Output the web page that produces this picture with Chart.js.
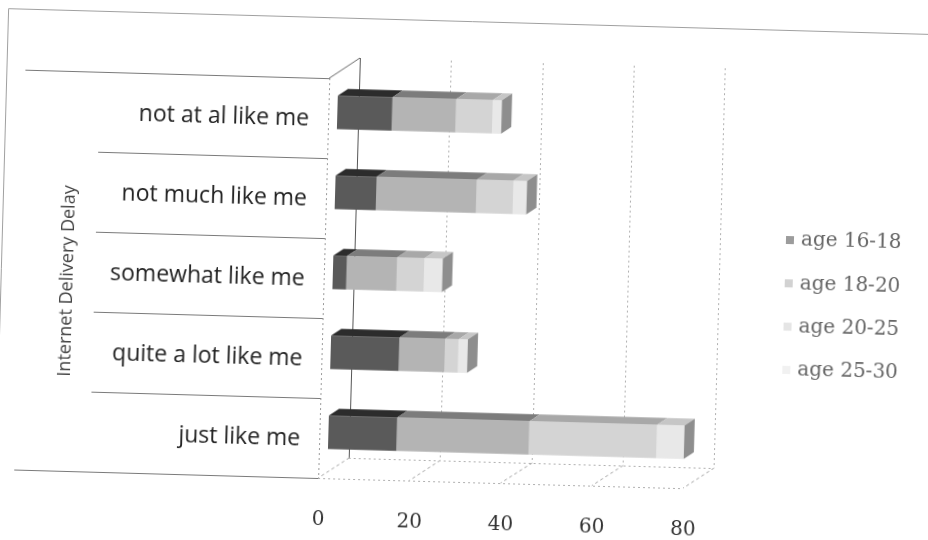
<!DOCTYPE html>
<html>
<head>
<meta charset="utf-8">
<script src="https://cdn.jsdelivr.net/npm/chart.js@4"></script>
<style>
  html, body { margin: 0; padding: 0; background: #fff; overflow: hidden; }
  #sheet { width: 928px; height: 540px; transform: rotate(1.6deg); transform-origin: 464px 270px; }
</style>
</head>
<body>
<div id="sheet"><canvas id="chart" width="928" height="540"></canvas></div>
<script>
// Responses per category, stacked by age group
const categories = ['not at al like me', 'not much like me', 'somewhat like me', 'quite a lot like me', 'just like me'];
const seriesNames = ['age 16-18', 'age 18-20', 'age 20-25', 'age 25-30'];
const age16to18 = [12, 9, 3, 15, 15];
const age18to20 = [14, 22, 11, 10, 29];
const age20to25 = [8, 8, 6, 3, 28];
const age25to30 = [2, 3, 4, 2, 6];
const xTicks = [0, 20, 40, 60, 80];
const axisTitle = 'Internet Delivery Delay';

// Face shades: front face and top face per series
const frontColors = ['#5a5a5a', '#b4b4b4', '#d4d4d4', '#e8e8e8'];
const topColors = ['#2c2c2c', '#7c7c7c', '#a8a8a8', '#c6c6c6'];
const capColor = '#8e8e8e';

// Depth offsets of the pseudo-3D box relative to the bar plane
const depthFront = { dx: -9, dy: 6 };
const depthBack = { dx: 21, dy: -15 };
const depthBar = { dx: 10, dy: -7 };

const seriesValues = [age16to18, age18to20, age20to25, age25to30];

const box3d = {
  id: 'box3d',
  beforeDatasetsDraw(chart) {
    const { ctx, chartArea: a, scales: { x, y } } = chart;
    const n = categories.length;
    const band = (a.bottom - a.top) / n;
    const frontTop = a.top + depthFront.dy, frontBot = a.bottom + depthFront.dy;
    const backTop = a.top + depthBack.dy, backBot = a.bottom + depthBack.dy;
    const frontLeft = x.getPixelForValue(xTicks[0]) + depthFront.dx;
    const backLeft = x.getPixelForValue(xTicks[0]) + depthBack.dx;
    const frontRight = x.getPixelForValue(xTicks[xTicks.length - 1]) + depthFront.dx;
    const backRight = x.getPixelForValue(xTicks[xTicks.length - 1]) + depthBack.dx;
    ctx.save();
    ctx.lineWidth = 1;

    // outer frame
    ctx.strokeStyle = '#a0a0a0';
    ctx.beginPath();
    ctx.moveTo(1.5, 560); ctx.lineTo(1.5, 21.5); ctx.lineTo(940, 21.5);
    ctx.stroke();

    // back wall and floor gridlines
    xTicks.forEach((v) => {
      const px = x.getPixelForValue(v);
      const bx = Math.round(px + depthBack.dx) + 0.5;
      const fx = px + depthFront.dx;
      ctx.setLineDash(v === 0 ? [] : [2, 3]);
      ctx.strokeStyle = v === 0 ? '#555' : '#b0b0b0';
      ctx.beginPath(); ctx.moveTo(bx, backTop); ctx.lineTo(bx, backBot); ctx.stroke();
      ctx.setLineDash([3, 3]);
      ctx.strokeStyle = '#a0a0a0';
      ctx.beginPath(); ctx.moveTo(bx, backBot); ctx.lineTo(fx, frontBot); ctx.stroke();
    });

    // floor outline
    ctx.setLineDash([2, 3]);
    ctx.strokeStyle = '#b0b0b0';
    ctx.beginPath(); ctx.moveTo(frontLeft, frontBot + 0.5); ctx.lineTo(frontRight, frontBot + 0.5); ctx.stroke();
    ctx.beginPath(); ctx.moveTo(backLeft, backBot + 0.5); ctx.lineTo(backRight, backBot + 0.5); ctx.stroke();

    // front left edge of the box
    ctx.strokeStyle = '#999';
    ctx.beginPath(); ctx.moveTo(Math.round(frontLeft) + 0.5, frontTop); ctx.lineTo(Math.round(frontLeft) + 0.5, frontBot); ctx.stroke();
    ctx.setLineDash([]);
    ctx.strokeStyle = '#666';
    ctx.beginPath(); ctx.moveTo(frontLeft, frontTop); ctx.lineTo(backLeft, backTop); ctx.stroke();

    // category separators across the label area
    ctx.strokeStyle = '#7a7a7a';
    for (let k = 0; k <= n; k++) {
      const yy = Math.round(a.top + k * band + depthFront.dy) + 0.5;
      const x0 = (k === 0 || k === n) ? 20 : 95;
      ctx.beginPath(); ctx.moveTo(x0, yy); ctx.lineTo(frontLeft, yy); ctx.stroke();
    }
    ctx.restore();
  },
  afterDatasetsDraw(chart) {
    const { ctx } = chart;
    const ends = [];
    ctx.save();
    chart.data.datasets.forEach((ds, di) => {
      const meta = chart.getDatasetMeta(di);
      meta.data.forEach((el, i) => {
        const p = el.getProps(['x', 'y', 'base', 'height'], true);
        const top = p.y - p.height / 2;
        const bot = p.y + p.height / 2;
        const x0 = Math.min(p.x, p.base), x1 = Math.max(p.x, p.base);
        ctx.fillStyle = topColors[di];
        ctx.beginPath();
        ctx.moveTo(x0, top);
        ctx.lineTo(x0 + depthBar.dx, top + depthBar.dy);
        ctx.lineTo(x1 + depthBar.dx, top + depthBar.dy);
        ctx.lineTo(x1, top);
        ctx.closePath();
        ctx.fill();
        if (!ends[i] || x1 > ends[i].x) ends[i] = { x: x1, top, bot };
      });
    });
    ends.forEach((e) => {
      ctx.fillStyle = capColor;
      ctx.beginPath();
      ctx.moveTo(e.x, e.top);
      ctx.lineTo(e.x + depthBar.dx, e.top + depthBar.dy);
      ctx.lineTo(e.x + depthBar.dx, e.bot + depthBar.dy);
      ctx.lineTo(e.x, e.bot);
      ctx.closePath();
      ctx.fill();
    });
    ctx.restore();
  },
  afterDraw(chart) {
    const { ctx } = chart;
    ctx.save();
    // outer category label
    ctx.fillStyle = '#444';
    ctx.font = '18px "Open Sans"';
    ctx.textAlign = 'center';
    ctx.textBaseline = 'middle';
    ctx.translate(68, 292);
    ctx.rotate(-Math.PI / 2);
    ctx.fillText(axisTitle, 0, 0);
    ctx.restore();

    // legend
    ctx.save();
    ctx.font = '20px "DejaVu Serif"';
    ctx.textBaseline = 'middle';
    ctx.textAlign = 'left';
    chart.data.datasets.forEach((ds, i) => {
      const yy = 231 + i * 43.3;
      ctx.globalAlpha = 0.6;
      ctx.fillStyle = ds.backgroundColor;
      ctx.fillRect(785, yy - 4, 8, 8);
      ctx.globalAlpha = 1;
      ctx.fillStyle = '#666';
      ctx.fillText(ds.label, 800, yy);
    });
    ctx.restore();
  }
};

new Chart(document.getElementById('chart'), {
  type: 'bar',
  data: {
    labels: categories,
    datasets: seriesValues.map((vals, i) => ({
      label: seriesNames[i],
      data: vals,
      backgroundColor: frontColors[i],
      borderWidth: 0,
      barPercentage: 0.42,
      categoryPercentage: 1
    }))
  },
  options: {
    indexAxis: 'y',
    responsive: false,
    animation: false,
    devicePixelRatio: 1,
    layout: { padding: { top: 76, right: 230, left: 0, bottom: 0 } },
    plugins: { legend: { display: false }, tooltip: { enabled: false } },
    scales: {
      x: {
        stacked: true,
        min: xTicks[0],
        max: xTicks[xTicks.length - 1],
        afterBuildTicks: (s) => { s.ticks = xTicks.map((v) => ({ value: v })); },
        afterFit: (s) => { s.height = 64; },
        grid: { display: false, drawTicks: false },
        border: { display: false },
        ticks: {
          padding: 36,
          labelOffset: -8,
          color: '#333',
          font: { family: 'DejaVu Serif', size: 20 }
        }
      },
      y: {
        stacked: true,
        afterFit: (s) => { s.width = 333; },
        grid: { display: false, drawTicks: false },
        border: { display: false },
        ticks: {
          padding: 28,
          labelOffset: 7,
          color: '#222',
          font: { family: 'Open Sans', size: 23 }
        }
      }
    }
  },
  plugins: [box3d]
});
</script>
</body>
</html>
